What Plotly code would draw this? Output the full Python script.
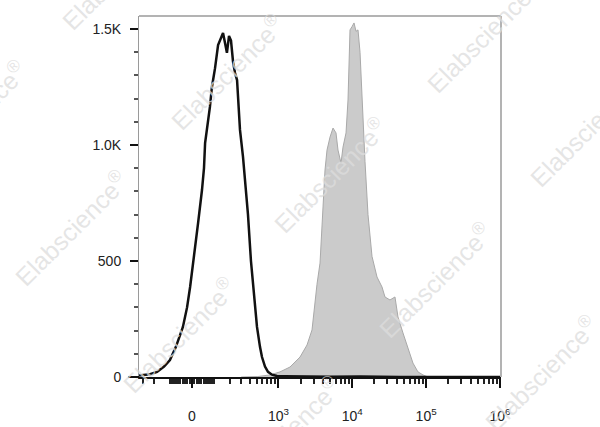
import numpy as np
import plotly.graph_objects as go

# ---- data (fluorescence intensity vs. event count) ----
COFACTOR = 136.0

black_fl = [-490, -298, -233, -179, -134, -101, -71, -39, -21, -8,
            4, 13, 26, 43, 52, 57, 71, 80, 90, 106,
            123, 134, 153, 166, 179, 194, 209, 225, 242, 260,
            288, 319, 341, 377, 416, 444, 475, 506, 557, 594,
            654, 719, 816, 956, 1228, 1965, 5005, 12760, 44300, 1000000]
black_count = [0, 9, 12, 22, 45, 73, 130, 216, 300, 388,
               480, 547, 664, 806, 900, 1008, 1100, 1164, 1250, 1330,
               1431, 1450, 1483, 1440, 1397, 1470, 1450, 1360, 1310, 1280,
               1065, 950, 862, 700, 500, 400, 300, 216, 130, 86,
               45, 22, 10, 4, 3, 2, 1, 2, 0, 0]

gray_fl = [300, 520, 766, 1050, 1437, 1965, 2446, 2858, 3339, 3668,
           4027, 4285, 4561, 5005, 5499, 6036, 6422, 7054, 7507, 8246,
           8772, 9335, 9934, 10580, 11257, 11977, 12757, 13573, 14892, 16361,
           18523, 21651, 25296, 27758, 32436, 37903, 41602, 48606, 56794, 66354,
           77574, 90644, 105930]
gray_count = [0, 2, 9, 22, 43, 86, 138, 203, 400, 491,
              733, 892, 978, 1034, 1073, 1052, 978, 922, 991, 1052,
              1194, 1496, 1510, 1526, 1490, 1496, 1400, 1200, 930, 700,
              520, 431, 388, 345, 332, 345, 259, 190, 129, 60,
              22, 9, 0]

x_major_vals = [0, 1e3, 1e4, 1e5, 1e6]
x_major_text = ["0", "10<sup>3</sup>", "10<sup>4</sup>", "10<sup>5</sup>", "10<sup>6</sup>"]
y_tick_vals = [0, 500, 1000, 1500]
y_tick_text = ["0", "500", "1.0K", "1.5K"]


def tr(v):
    return np.arcsinh(np.asarray(v, dtype=float) / COFACTOR)


minor_vals = []
for s in (-1, 1):
    minor_vals += [s * v for v in range(10, 100, 10)]
    minor_vals += [s * v for v in range(100, 1000, 100)]
for dec in (1e3, 1e4, 1e5):
    minor_vals += [k * dec for k in range(2, 10)]
minor_u = [float(u) for u in tr(minor_vals) if -1.651 <= u <= 9.626]

fig = go.Figure()
fig.add_trace(go.Scatter(x=tr(gray_fl), y=gray_count, mode="lines", fill="tozeroy",
                         fillcolor="#cbcbcb", line=dict(color="#a9a9a9", width=1),
                         hoverinfo="skip"))
fig.add_trace(go.Scatter(x=tr(black_fl), y=black_count, mode="lines",
                         line=dict(color="#111111", width=2.5), hoverinfo="skip"))

font = "Liberation Sans, Arial, sans-serif"
fig.update_layout(
    width=600, height=427,
    margin=dict(l=139, r=99, t=16, b=50, autoexpand=False),
    plot_bgcolor="white", paper_bgcolor="white",
    showlegend=False,
    xaxis=dict(
        automargin=False,
        range=[-1.651, 9.626], tickmode="array",
        tickvals=[float(u) for u in tr(x_major_vals)], ticktext=x_major_text,
        ticks="outside", ticklen=9, tickwidth=2, tickcolor="#111",
        showgrid=False, zeroline=False, showline=True, linecolor="#111", linewidth=2,
        minor=dict(tickmode="array", tickvals=minor_u, ticks="outside", ticklen=5,
                   tickwidth=1.5, tickcolor="#222", showgrid=False),
        tickfont=dict(family=font, size=14, color="#222"),
        ticklabelstandoff=16,
    ),
    yaxis=dict(
        automargin=False,
        range=[0, 1556], tickmode="array", tickvals=y_tick_vals, ticktext=y_tick_text,
        ticks="outside", ticklen=8, tickwidth=2, tickcolor="#111",
        showgrid=False, zeroline=False, showline=True, linecolor="#9a9a9a", linewidth=1,
        minor=dict(tickmode="linear", tick0=0, dtick=100, ticks="outside", ticklen=4,
                   tickwidth=1.5, tickcolor="#555", showgrid=False),
        tickfont=dict(family=font, size=14, color="#222"),
        ticklabelstandoff=6,
    ),
)

# frame (top & right) and baseline extension
fig.add_shape(type="line", xref="paper", yref="paper", x0=0, x1=1, y0=1, y1=1,
              line=dict(color="#9a9a9a", width=1.5))
fig.add_shape(type="line", xref="paper", yref="paper", x0=1, x1=1, y0=0, y1=1,
              line=dict(color="#9a9a9a", width=1.5))
fig.add_shape(type="line", xref="paper", yref="paper", x0=-11 / 362, x1=0, y0=0, y1=0,
              line=dict(color="#111", width=2))

# watermarks
wm_centers = [(118, -28), (-30, 118), (227, 72), (483, 35), (71, 228), (330, 175),
              (586, 129), (179, 335), (435, 280), (284, 434), (541, 373)]
for cx, cy in wm_centers:
    fig.add_annotation(x=(cx - 139) / 362, y=(377 - cy) / 361, xref="paper", yref="paper",
                       text="Elabscience<sup>®</sup>", showarrow=False, textangle=-45,
                       xanchor="center", yanchor="middle",
                       font=dict(family=font, size=25, color="rgba(221,221,221,0.76)"))

fig.write_html("out.html", config={"displayModeBar": False},
               post_script="document.body.style.margin='0';")
